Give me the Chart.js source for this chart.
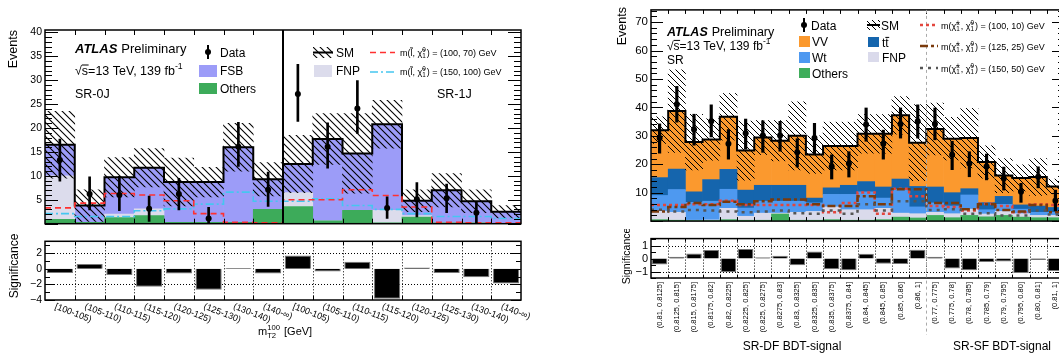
<!DOCTYPE html>
<html>
<head>
<meta charset="utf-8">
<script src="https://cdn.jsdelivr.net/npm/chart.js@4.4.1/dist/chart.umd.min.js"></script>
<style>
    html, body { margin: 0; padding: 0; background: #fff; overflow: hidden; width: 1059px; height: 354px; }
    .box { position: absolute; }
</style>
</head>
<body>
<div class="box" style="left:0;top:0;width:530px;height:233px"><canvas id="leftMain"></canvas></div>
<div class="box" style="left:0;top:232px;width:530px;height:122px"><canvas id="leftSig"></canvas></div>
<div class="box" style="left:600px;top:0;width:470px;height:231px"><canvas id="rightMain"></canvas></div>
<div class="box" style="left:600px;top:229px;width:470px;height:125px"><canvas id="rightSig"></canvas></div>
<script>
// ---------- 左图: SR-0J / SR-1J ----------
const leftBins = ['[100-105)', '(105-110)', '(110-115)', '(115-120)', '(120-125)', '(125-130)', '(130-140)', '(140-\u221e)',
                  '[100-105)', '(105-110)', '(110-115)', '(115-120)', '(120-125)', '(125-130)', '(130-140)', '(140-\u221e)'];
const leftOthers = [0.9, 0.3, 1.3, 1.7, 0.3, 0.3, 0.3, 3.0, 3.6, 0.6, 2.8, 0.2, 1.4, 0.2, 0.2, 0.1];
const leftFNP    = [9.1, 0.0, 0.7, 1.4, 0.0, 0.0, 0.0, 0.0, 2.9, 0.0, 0.0, 2.6, 0.3, 0.0, 0.0, 0.0];
const leftFSB    = [6.5, 3.5, 7.7, 8.6, 8.4, 8.4, 15.7, 6.3, 6.0, 17.1, 11.9, 18.0, 3.1, 6.8, 4.5, 2.4];
const leftSMUnc  = [7.0, 3.3, 4.1, 4.0, 5.0, 3.1, 5.0, 3.5, 6.0, 5.3, 8.3, 5.0, 2.3, 3.5, 2.4, 1.3];
const leftData     = [13.3, 6.2, 6.0, 3.1, 6.2, 1.1, 16.1, 7.1, 27.1, 16.1, 24.1, 3.3, 5.1, 5.3, 2.3, null];
const leftDataUp   = [4.4, 3.6, 3.9, 2.7, 3.3, 2.3, 5.1, 3.7, 6.2, 5.0, 5.8, 2.3, 3.5, 3.0, 2.4, null];
const leftDataDown = [4.4, 3.3, 3.3, 2.6, 3.3, 1.1, 4.1, 3.5, 5.7, 4.5, 5.2, 2.2, 3.7, 3.0, 2.1, null];
const leftSig100_70  = [3.3, 4.3, 6.3, 6.0, 4.8, 2.1, 0.3, 0.2, 5.0, 5.0, 7.1, 5.9, 3.5, 0.3, 0.2, 0.2];
const leftSig150_100 = [2.1, 1.5, 1.5, 2.7, 3.1, 4.1, 6.6, 4.7, 4.7, 5.2, 3.8, 3.0, 2.1, 1.5, 1.5, 1.1];
const leftSignif = [-0.55, 0.6, -0.8, -2.3, -0.6, -2.7, 0.1, -0.6, 1.7, -0.35, 0.9, -3.85, 0.15, -0.55, -1.1, -1.9];

// ---------- 右图: SR-DF / SR-SF BDT ----------
const rightBins = ['(0.81, 0.8125]', '(0.8125, 0.815]', '(0.815, 0.8175]', '(0.8175, 0.82]', '(0.82, 0.8225]', '(0.8225, 0.825]',
                   '(0.825, 0.8275]', '(0.8275, 0.83]', '(0.83, 0.8325]', '(0.8325, 0.835]', '(0.835, 0.8375]', '(0.8375, 0.84]',
                   '(0.84, 0.845]', '(0.845, 0.85]', '(0.85, 0.86]', '(0.86, 1]',
                   '(0.77, 0.775]', '(0.775, 0.78]', '(0.78, 0.785]', '(0.785, 0.79]', '(0.79, 0.795]', '(0.795, 0.80]', '(0.80, 0.81]', '(0.81, 1]'];
const rightOthers = [0.5, 0.3, 0.2, 0.2, 0.5, 0.3, 0.3, 2.5, 0.3, 0.3, 0.5, 0.3, 0.3, 0.5, 1.4, 1.1, 2.0, 1.2, 2.0, 1.5, 2.0, 1.4, 1.2, 1.2];
const rightFNP    = [3.0, 2.8, 0.1, 0.2, 4.0, 1.4, 2.5, 0.3, 2.8, 3.1, 4.5, 3.7, 3.7, 4.0, 1.4, 1.5, 1.1, 1.4, 2.2, 1.0, 1.4, 1.2, 0.8, 0.8];
const rightWt     = [5.5, 8.0, 6.3, 6.6, 6.7, 2.9, 4.2, 4.2, 3.9, 3.0, 4.4, 5.4, 6.3, 3.6, 8.4, 2.4, 3.3, 2.7, 5.0, 1.5, 2.5, 1.6, 1.1, 1.1];
const rightTtbar  = [6.3, 7.2, 3.7, 7.6, 7.0, 6.3, 5.6, 5.6, 5.6, 1.7, 2.3, 3.2, 3.6, 3.9, 3.6, 7.2, 5.6, 4.7, 2.2, 2.5, 2.8, 1.5, 2.2, 1.7];
const rightVV     = [16.7, 20.4, 17.5, 14.1, 18.5, 13.9, 16.8, 15.7, 17.4, 15.3, 14.7, 13.8, 16.8, 18.7, 22.4, 15.4, 20.4, 19.0, 17.8, 14.3, 7.3, 9.5, 10.2, 7.4];
const rightSMUnc  = [4.7, 14.5, 9.8, 7.3, 8.2, 10.4, 6.0, 7.1, 12.0, 6.6, 8.4, 8.4, 6.8, 6.8, 6.6, 13.4, 9.1, 7.5, 10.5, 5.7, 6.0, 4.6, 6.5, 2.6];
const rightData     = [29.2, 41.1, 32.2, 35.1, 27.2, 30.9, 30.1, 30.1, 24.2, 29.2, 19.2, 20.3, 34.0, 27.2, 34.2, 35.1, 34.2, 23.3, 20.3, 19.2, 15.0, 10.3, 15.6, 7.2];
const rightDataUp   = [5.0, 6.3, 5.4, 5.8, 5.0, 5.0, 5.2, 5.0, 4.8, 5.2, 4.1, 4.1, 5.8, 4.8, 5.6, 5.8, 5.6, 4.8, 4.1, 4.4, 4.0, 3.0, 3.5, 3.7];
const rightDataDown = [5.3, 6.3, 5.5, 5.5, 5.4, 5.6, 5.9, 5.5, 5.2, 5.5, 4.4, 4.8, 5.9, 5.4, 5.0, 5.9, 5.6, 5.2, 4.7, 4.7, 4.1, 3.7, 3.9, 3.6];
const rightSig100_10 = [5.7, 5.7, 5.9, 5.9, 7.2, 5.7, 5.7, 5.7, 5.7, 5.7, 3.1, 6.4, 10.1, 2.6, 11.4, 8.7, 5.3, 5.0, 3.7, 6.1, 5.3, 3.1, 5.9, 5.7];
const rightSig125_25 = [3.4, 5.0, 6.4, 5.7, 6.8, 5.9, 7.0, 7.6, 7.6, 5.9, 5.3, 5.3, 8.7, 5.9, 11.2, 11.2, 6.4, 6.4, 4.2, 5.9, 3.9, 3.4, 5.7, 3.1];
const rightSig150_50 = [4.0, 3.4, 3.9, 3.7, 3.4, 3.1, 3.4, 3.7, 2.8, 2.6, 3.7, 2.6, 5.9, 3.7, 7.0, 7.0, 3.9, 4.2, 2.6, 2.8, 2.0, 2.0, 3.7, 2.3];
const rightSignif = [-0.46, 0.14, 0.4, 0.66, -1.06, 0.74, 0.1, 0.22, -0.52, 0.56, -0.82, -0.9, 0.38, -0.4, -0.42, 0.68,
                     0.14, -0.76, -0.9, -0.26, -0.22, -1.12, -0.1, -0.96];

const FONT = '"Liberation Sans", Arial, Helvetica, sans-serif';
const C = {
    fsb: '#9c9cf8', fnpL: '#dcdcec', othersL: '#3dab5a', redL: '#ff3030', cyan: '#45c6f0',
    vv: '#fb992e', tt: '#1565ad', wt: '#4e99f0', othersR: '#3fad5b', fnpR: '#dadaeb',
    red: '#e3463d', brown: '#7a3a0c', gray: '#555555'
};
Chart.defaults.font.family = FONT;
Chart.defaults.color = '#000';

// 斜线填充 (SM 不确定度)
function hatchPattern(step, width) {
    const c = document.createElement('canvas');
    c.width = step; c.height = step;
    const g = c.getContext('2d');
    g.strokeStyle = '#000';
    g.lineWidth = width;
    g.beginPath();
    for (const off of [-step, 0, step]) {
        g.moveTo(off - 1, -1);
        g.lineTo(off + step + 1, step + 1);
    }
    g.stroke();
    return g.createPattern(c, 'repeat');
}

// 直方图辅助
const centers = vals => vals.map((v, i) => ({x: i + 0.5, y: v}));
const stepPoints = vals => vals.map((v, i) => ({x: i, y: v})).concat([{x: vals.length, y: vals[vals.length - 1]}]);
const band = (tot, unc) => tot.map((t, i) => ({x: i + 0.5, y: [t - unc[i], t + unc[i]]}));
const errBars = (d, up, dn) => d.map((v, i) => ({x: i + 0.5, y: v === null ? null : [v - dn[i], v + up[i]]}));

function richText(ctx, x, y, parts, size, style) {
    let cx = x;
    for (const p of parts) {
        if (typeof p === 'string') {
            ctx.font = `${style || ''} ${size}px ${FONT}`;
            ctx.fillText(p, cx, y);
            cx += ctx.measureText(p).width;
        } else if (p.over) {
            ctx.font = `${size}px ${FONT}`;
            ctx.fillText(p.over, cx, y);
            const w = ctx.measureText(p.over).width;
            ctx.fillRect(cx, y - size * 0.8, w + 0.5, 1);
            cx += w;
        } else {
            const s = size * 0.7;
            ctx.font = `${s}px ${FONT}`;
            let w = 0;
            if (p.sup) { ctx.fillText(p.sup, cx, y - size * 0.42); w = Math.max(w, ctx.measureText(p.sup).width); }
            if (p.sub) { ctx.fillText(p.sub, cx, y + size * 0.25); w = Math.max(w, ctx.measureText(p.sub).width); }
            cx += w + 1;
        }
    }
    return cx;
}

function atlasLabel(ctx, x, y, size) {
    ctx.font = `italic bold ${size}px ${FONT}`;
    ctx.fillText('ATLAS', x, y);
    const w = ctx.measureText('ATLAS').width;
    ctx.font = `${size}px ${FONT}`;
    ctx.fillText('Preliminary', x + w + 4, y);
}

function dataMarker(ctx, x, y, r, lw) {
    ctx.fillStyle = '#000';
    ctx.fillRect(x - lw / 2, y - 7, lw, 14);
    ctx.beginPath();
    ctx.arc(x, y, r, 0, Math.PI * 2);
    ctx.fill();
}

function lineSample(ctx, x0, x1, y, color, width, dash) {
    ctx.save();
    ctx.strokeStyle = color;
    ctx.lineWidth = width;
    ctx.setLineDash(dash);
    ctx.beginPath();
    ctx.moveTo(x0, y);
    ctx.lineTo(x1, y);
    ctx.stroke();
    ctx.restore();
}

function vertText(ctx, text, x, y, size, align) {
    ctx.save();
    ctx.translate(x, y);
    ctx.rotate(-Math.PI / 2);
    ctx.font = `${size}px ${FONT}`;
    ctx.textAlign = align;
    ctx.textBaseline = 'middle';
    ctx.fillText(text, 0, 0);
    ctx.restore();
}

// ROOT 风格的框、刻度、网格
function framePlugin(o) {
    return {
        id: 'frame',
        beforeDatasetsDraw(chart) {
            if (!o.gridY) return;
            const {ctx, chartArea: a, scales} = chart;
            ctx.save();
            ctx.strokeStyle = '#000';
            ctx.lineWidth = 1;
            ctx.setLineDash([1, 2]);
            ctx.beginPath();
            for (const v of o.gridY) {
                const py = Math.round(scales.y.getPixelForValue(v)) + 0.5;
                ctx.moveTo(a.left, py); ctx.lineTo(a.right, py);
            }
            for (let i = 1; i < o.nBins; i++) {
                const px = Math.round(scales.x.getPixelForValue(i)) + 0.5;
                ctx.moveTo(px, a.top); ctx.lineTo(px, a.bottom);
            }
            ctx.stroke();
            ctx.restore();
        },
        afterDatasetsDraw(chart) {
            const {ctx, chartArea: a, scales} = chart;
            const y = scales.y, x = scales.x;
            ctx.save();
            ctx.strokeStyle = '#000';
            ctx.lineWidth = 1;
            ctx.beginPath();
            const k0 = Math.ceil(y.min / o.minor - 1e-9), k1 = Math.floor(y.max / o.minor + 1e-9);
            for (let k = k0; k <= k1; k++) {
                const v = k * o.minor;
                const r = v / o.major;
                const len = Math.abs(r - Math.round(r)) < 1e-6 ? o.majorLen : o.minorLen;
                const py = Math.round(y.getPixelForValue(v)) + 0.5;
                ctx.moveTo(a.left, py); ctx.lineTo(a.left + len, py);
                ctx.moveTo(a.right, py); ctx.lineTo(a.right - len, py);
            }
            for (let i = 1; i < o.nBins; i++) {
                const px = Math.round(x.getPixelForValue(i)) + 0.5;
                ctx.moveTo(px, a.bottom); ctx.lineTo(px, a.bottom - o.xLen);
                ctx.moveTo(px, a.top); ctx.lineTo(px, a.top + o.xLen);
            }
            ctx.stroke();
            ctx.lineWidth = 1.5;
            ctx.strokeRect(a.left, a.top, a.right - a.left, a.bottom - a.top);
            ctx.restore();
        },
        afterDraw(chart) {
            if (o.overlay) {
                const ctx = chart.ctx;
                ctx.save();
                ctx.fillStyle = '#000';
                ctx.textAlign = 'left';
                ctx.textBaseline = 'alphabetic';
                o.overlay(chart, ctx);
                ctx.restore();
            }
        }
    };
}

function baseOptions(o) {
    return {
        responsive: true,
        maintainAspectRatio: false,
        animation: false,
        events: [],
        layout: {padding: o.padding},
        plugins: {legend: {display: false}, tooltip: {enabled: false}},
        scales: {
            x: {type: 'linear', min: 0, max: o.nBins, offset: false, display: false, ticks: {stepSize: 1}},
            y: {
                min: o.yMin, max: o.yMax, stacked: o.stacked,
                afterFit: s => { s.width = o.yWidth; },
                grid: {display: false, drawTicks: false},
                border: {display: false},
                ticks: {stepSize: o.step, includeBounds: false, padding: 3, color: '#000',
                        font: {size: o.tickSize}, callback: o.tickFmt}
            },
            y2: {min: o.yMin, max: o.yMax, display: false}
        }
    };
}

const hideZero = v => (v === 0 ? '' : String(v));
const minusFmt = v => String(v).replace('-', '\u2212');

// ---------- 左图主面板 ----------
const leftTotal = leftOthers.map((v, i) => v + leftFNP[i] + leftFSB[i]);
const hatchL = hatchPattern(7, 1.1);
new Chart(document.getElementById('leftMain'), {
    type: 'bar',
    data: {
        datasets: [
            {label: 'Others', data: centers(leftOthers), backgroundColor: C.othersL, grouped: false, order: 5, borderWidth: 0, barPercentage: 1, categoryPercentage: 1},
            {label: 'FNP', data: centers(leftFNP), backgroundColor: C.fnpL, grouped: false, order: 5, borderWidth: 0, barPercentage: 1, categoryPercentage: 1},
            {label: 'FSB', data: centers(leftFSB), backgroundColor: C.fsb, grouped: false, order: 5, borderWidth: 0, barPercentage: 1, categoryPercentage: 1},
            {label: 'SM unc', data: band(leftTotal, leftSMUnc), backgroundColor: hatchL, yAxisID: 'y2', grouped: false, order: 4, borderWidth: 0, barPercentage: 1, categoryPercentage: 1},
            {type: 'line', label: 'SM', data: stepPoints(leftTotal), stepped: 'before', borderColor: '#000', borderWidth: 2, pointRadius: 0, yAxisID: 'y2', order: 3},
            {type: 'line', label: '(100, 70)', data: stepPoints(leftSig100_70), stepped: 'before', borderColor: C.redL, borderWidth: 1.6, borderDash: [6, 4], pointRadius: 0, yAxisID: 'y2', order: 2},
            {type: 'line', label: '(150, 100)', data: stepPoints(leftSig150_100), stepped: 'before', borderColor: C.cyan, borderWidth: 1.6, borderDash: [8, 3, 2, 3], pointRadius: 0, yAxisID: 'y2', order: 2},
            {label: 'Data err', data: errBars(leftData, leftDataUp, leftDataDown), backgroundColor: '#000', barThickness: 2, yAxisID: 'y2', grouped: false, order: 1},
            {type: 'line', label: 'Data', data: centers(leftData), showLine: false, pointRadius: 3, pointBackgroundColor: '#000', pointBorderWidth: 0, yAxisID: 'y2', order: 0}
        ]
    },
    options: baseOptions({nBins: 16, yMin: 0, yMax: 40.5, stacked: true, step: 5, yWidth: 45, tickSize: 10.5, tickFmt: hideZero,
                          padding: {left: 0, right: 9, top: 30, bottom: 1}}),
    plugins: [framePlugin({nBins: 16, major: 5, minor: 1, majorLen: 13, minorLen: 7, xLen: 5,
        overlay(chart, ctx) {
            const a = chart.chartArea;
            const sep = Math.round(chart.scales.x.getPixelForValue(8));
            ctx.strokeStyle = '#000';
            ctx.lineWidth = 2;
            ctx.beginPath(); ctx.moveTo(sep, a.top); ctx.lineTo(sep, a.bottom); ctx.stroke();

            vertText(ctx, 'Events', 14, 30, 12.5, 'right');
            atlasLabel(ctx, 75, 52.5, 13);
            richText(ctx, 75, 74.5, ['\u221A', {over: 's'}, '=13 TeV, 139 fb', {sup: '-1'}], 12.5);
            richText(ctx, 75, 97.5, ['SR-0J'], 12.5);
            richText(ctx, 437, 97.5, ['SR-1J'], 12.5);

            dataMarker(ctx, 208, 52, 3, 2);
            richText(ctx, 220, 56.5, ['Data'], 12);
            ctx.fillStyle = C.fsb; ctx.fillRect(199, 65, 18, 12);
            ctx.fillStyle = '#000'; richText(ctx, 220, 75, ['FSB'], 12);
            ctx.fillStyle = C.othersL; ctx.fillRect(199, 83, 18, 11);
            ctx.fillStyle = '#000'; richText(ctx, 220, 92.5, ['Others'], 12);

            ctx.fillStyle = hatchL; ctx.fillRect(313, 47, 20, 11);
            ctx.fillStyle = '#000'; ctx.fillRect(313, 51.5, 20, 2);
            richText(ctx, 336, 56.5, ['SM'], 12);
            ctx.fillStyle = C.fnpL; ctx.fillRect(314, 65, 18, 12);
            ctx.fillStyle = '#000'; richText(ctx, 336, 75, ['FNP'], 12);

            lineSample(ctx, 370, 395, 52.5, C.redL, 1.6, [6, 4]);
            richText(ctx, 400, 55.5, ['m(l\u0303, \u03C7\u0303', {sup: '0', sub: '1'}, ') = (100, 70) GeV'], 9);
            lineSample(ctx, 370, 395, 72, C.cyan, 1.6, [8, 3, 2, 3]);
            richText(ctx, 400, 75, ['m(l\u0303, \u03C7\u0303', {sup: '0', sub: '1'}, ') = (150, 100) GeV'], 9);
        }
    })]
});

// ---------- 左图显著性面板 ----------
new Chart(document.getElementById('leftSig'), {
    type: 'bar',
    data: {
        datasets: [
            {label: 'Significance', data: centers(leftSignif), backgroundColor: '#000', borderColor: '#777', borderWidth: 1,
             grouped: false, barPercentage: 0.88, categoryPercentage: 1}
        ]
    },
    options: baseOptions({nBins: 16, yMin: -4, yMax: 3.5, stacked: false, step: 2, yWidth: 45, tickSize: 10.5, tickFmt: minusFmt,
                          padding: {left: 0, right: 9, top: 2, bottom: 54}}),
    plugins: [framePlugin({nBins: 16, major: 2, minor: 1, majorLen: 10, minorLen: 5, xLen: 4, gridY: [2, -2],
        overlay(chart, ctx) {
            const x = chart.scales.x;
            vertText(ctx, 'Significance', 15, 34, 12, 'center');
            ctx.font = `9px ${FONT}`;
            ctx.textBaseline = 'top';
            leftBins.forEach((lab, i) => {
                ctx.save();
                ctx.translate(x.getPixelForValue(i + 0.5) - 3, 70);
                ctx.rotate(21 * Math.PI / 180);
                ctx.fillText(lab, 0, 0);
                ctx.restore();
            });
            ctx.textBaseline = 'alphabetic';
            richText(ctx, 258, 103, ['m', {sup: '100', sub: 'T2'}, ' [GeV]'], 11);
        }
    })]
});

// ---------- 右图主面板 ----------
const rightTotal = rightOthers.map((v, i) => v + rightFNP[i] + rightWt[i] + rightTtbar[i] + rightVV[i]);
const hatchR = hatchPattern(6, 1);
new Chart(document.getElementById('rightMain'), {
    type: 'bar',
    data: {
        datasets: [
            {label: 'Others', data: centers(rightOthers), backgroundColor: C.othersR, grouped: false, order: 5, borderWidth: 0, barPercentage: 1, categoryPercentage: 1},
            {label: 'FNP', data: centers(rightFNP), backgroundColor: C.fnpR, grouped: false, order: 5, borderWidth: 0, barPercentage: 1, categoryPercentage: 1},
            {label: 'Wt', data: centers(rightWt), backgroundColor: C.wt, grouped: false, order: 5, borderWidth: 0, barPercentage: 1, categoryPercentage: 1},
            {label: 'ttbar', data: centers(rightTtbar), backgroundColor: C.tt, grouped: false, order: 5, borderWidth: 0, barPercentage: 1, categoryPercentage: 1},
            {label: 'VV', data: centers(rightVV), backgroundColor: C.vv, grouped: false, order: 5, borderWidth: 0, barPercentage: 1, categoryPercentage: 1},
            {label: 'SM unc', data: band(rightTotal, rightSMUnc), backgroundColor: hatchR, yAxisID: 'y2', grouped: false, order: 4, borderWidth: 0, barPercentage: 1, categoryPercentage: 1},
            {type: 'line', label: 'SM', data: stepPoints(rightTotal), stepped: 'before', borderColor: '#000', borderWidth: 2, pointRadius: 0, yAxisID: 'y2', order: 3},
            {type: 'line', label: '(150, 50)', data: stepPoints(rightSig150_50), stepped: 'before', borderColor: C.gray, borderWidth: 2.5, borderDash: [3, 5], pointRadius: 0, yAxisID: 'y2', order: 2},
            {type: 'line', label: '(125, 25)', data: stepPoints(rightSig125_25), stepped: 'before', borderColor: C.brown, borderWidth: 2.5, borderDash: [8, 3, 3, 3], pointRadius: 0, yAxisID: 'y2', order: 2},
            {type: 'line', label: '(100, 10)', data: stepPoints(rightSig100_10), stepped: 'before', borderColor: C.red, borderWidth: 2.5, borderDash: [3, 3], pointRadius: 0, yAxisID: 'y2', order: 2},
            {label: 'Data err', data: errBars(rightData, rightDataUp, rightDataDown), backgroundColor: '#000', barThickness: 2.5, yAxisID: 'y2', grouped: false, order: 1},
            {type: 'line', label: 'Data', data: centers(rightData), showLine: false, pointRadius: 3, pointBackgroundColor: '#000', pointBorderWidth: 0, yAxisID: 'y2', order: 0}
        ]
    },
    options: baseOptions({nBins: 24, yMin: 0, yMax: 74.3, stacked: true, step: 10, yWidth: 51, tickSize: 11.5, tickFmt: hideZero,
                          padding: {left: 0, right: 6, top: 7, bottom: 2}}),
    plugins: [framePlugin({nBins: 24, major: 10, minor: 2, majorLen: 12, minorLen: 6, xLen: 4,
        overlay(chart, ctx) {
            const a = chart.chartArea;
            const sep = Math.round(chart.scales.x.getPixelForValue(16)) + 0.5;
            ctx.save();
            ctx.strokeStyle = '#aaa'; ctx.lineWidth = 1; ctx.setLineDash([3, 3]);
            ctx.beginPath(); ctx.moveTo(sep, a.top); ctx.lineTo(sep, a.bottom); ctx.stroke();
            ctx.restore();

            vertText(ctx, 'Events', 23, 7, 12.5, 'right');
            atlasLabel(ctx, 67, 35.5, 12.5);
            richText(ctx, 67, 49.5, ['\u221A', {over: 's'}, '=13 TeV, 139 fb', {sup: '-1'}], 12);
            richText(ctx, 67, 64, ['SR'], 12);

            dataMarker(ctx, 204, 25, 3, 2);
            richText(ctx, 211, 29.5, ['Data'], 12);
            ctx.fillStyle = C.vv; ctx.fillRect(199, 36, 11, 11);
            ctx.fillStyle = '#000'; richText(ctx, 212, 46, ['VV'], 12);
            ctx.fillStyle = C.wt; ctx.fillRect(199, 52, 11, 11);
            ctx.fillStyle = '#000'; richText(ctx, 212, 62, ['Wt'], 12);
            ctx.fillStyle = C.othersR; ctx.fillRect(199, 68, 11, 10);
            ctx.fillStyle = '#000'; richText(ctx, 212, 77.5, ['Others'], 12);

            ctx.fillStyle = hatchR; ctx.fillRect(267, 20, 13, 10);
            ctx.fillStyle = '#000'; ctx.fillRect(267, 24, 13, 2);
            richText(ctx, 281, 29.5, ['SM'], 12);
            ctx.fillStyle = C.tt; ctx.fillRect(268, 37, 11, 10);
            ctx.fillStyle = '#000'; richText(ctx, 282, 46.5, ['t', {over: 't'}], 12);
            ctx.fillStyle = C.fnpR; ctx.fillRect(268, 52, 11, 10);
            ctx.fillStyle = '#000'; richText(ctx, 282, 61.5, ['FNP'], 12);

            const chi = ['m(\u03C7\u0303', {sup: '\u00B1', sub: '1'}, ', \u03C7\u0303', {sup: '0', sub: '1'}];
            lineSample(ctx, 320, 338, 25, C.red, 2.5, [3, 3]);
            richText(ctx, 341, 28.5, chi.concat([') = (100, 10) GeV']), 9);
            lineSample(ctx, 320, 338, 46, C.brown, 2.5, [8, 3, 3, 3]);
            richText(ctx, 341, 49.5, chi.concat([') = (125, 25) GeV']), 9);
            lineSample(ctx, 320, 338, 68, C.gray, 2.5, [3, 5]);
            richText(ctx, 341, 71.5, chi.concat([') = (150, 50) GeV']), 9);
        }
    })]
});

// ---------- 右图显著性面板 ----------
new Chart(document.getElementById('rightSig'), {
    type: 'bar',
    data: {
        datasets: [
            {label: 'Significance', data: centers(rightSignif), backgroundColor: '#000', borderColor: '#777', borderWidth: 1,
             grouped: false, barPercentage: 0.9, categoryPercentage: 1}
        ]
    },
    options: baseOptions({nBins: 24, yMin: -1.5, yMax: 1.55, stacked: false, step: 1, yWidth: 51, tickSize: 11, tickFmt: minusFmt,
                          padding: {left: 0, right: 6, top: 1, bottom: 76}}),
    plugins: [framePlugin({nBins: 24, major: 1, minor: 0.5, majorLen: 9, minorLen: 5, xLen: 3, gridY: [1, -1],
        overlay(chart, ctx) {
            const x = chart.scales.x;
            const sep = Math.round(x.getPixelForValue(16)) + 0.5;
            ctx.save();
            ctx.strokeStyle = '#aaa'; ctx.lineWidth = 1; ctx.setLineDash([3, 3]);
            ctx.beginPath(); ctx.moveTo(sep, chart.chartArea.top); ctx.lineTo(sep, 106); ctx.stroke();
            ctx.restore();

            vertText(ctx, 'Significance', 27, 27, 10.5, 'center');
            rightBins.forEach((lab, i) => {
                vertText(ctx, lab, x.getPixelForValue(i + 0.5), 53, 7.5, 'right');
            });
            ctx.font = `12px ${FONT}`;
            ctx.textAlign = 'center';
            ctx.fillText('SR-DF BDT-signal', 192, 121);
            ctx.fillText('SR-SF BDT-signal', 402, 121);
        }
    })]
});
</script>
</body>
</html>
